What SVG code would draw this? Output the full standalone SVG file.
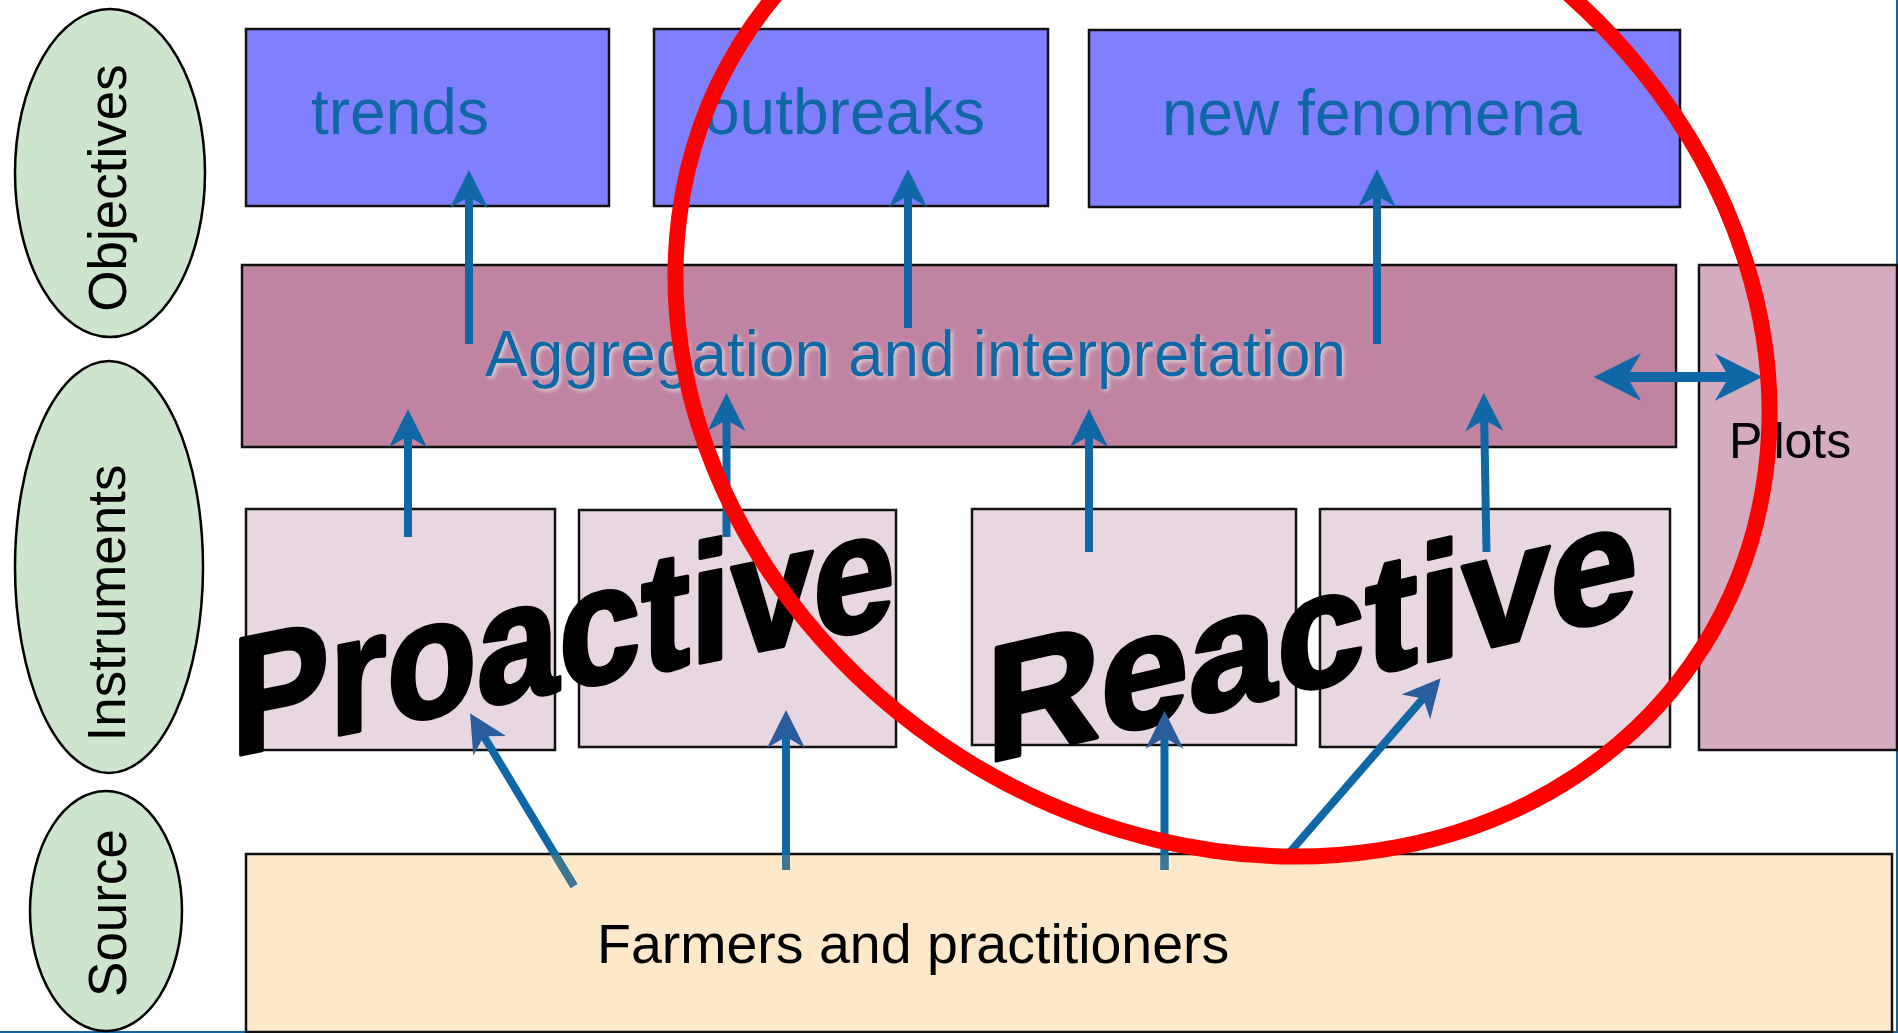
<svg xmlns="http://www.w3.org/2000/svg" width="1898" height="1033" viewBox="0 0 1898 1033">
  <style>
    .bx { stroke: #111; stroke-width: 2.5; }
    .oval { fill: #CDE4CD; stroke: #000; stroke-width: 2.5; }
    .lbl { font-family: "Liberation Sans", Arial, sans-serif; font-size: 53px; fill: #000; text-anchor: middle; }
    .blue { font-family: "Liberation Sans", Arial, sans-serif; font-size: 64px; fill: #0F67A6; }
    .blk { font-family: "Liberation Sans", Arial, sans-serif; fill: #000; }
    .big { font-family: "Liberation Sans", Arial, sans-serif; font-weight: bold; fill: #000; stroke: #000; stroke-width: 4; stroke-linejoin: round; }
    .arr { fill: none; stroke: #0F67A6; stroke-width: 8; marker-end: url(#ah); }
    .arrS { fill: none; stroke: #0F67A6; stroke-width: 8; marker-end: url(#ahP); }
    .tail { fill: none; stroke: #3E7590; stroke-width: 8; }
  </style>
  <defs>
    <marker id="ah" markerUnits="strokeWidth" orient="auto-start-reverse" viewBox="-2 -3 6 6" markerWidth="6" markerHeight="6" refX="0" refY="0">
      <path d="M3.34,0 L-1.41,-2.375 L0,0 L-1.41,2.375 Z" fill="#0F67A6"/>
    </marker>
    <marker id="ahP" markerUnits="strokeWidth" orient="auto-start-reverse" viewBox="-2 -3 6 6" markerWidth="6" markerHeight="6" refX="0" refY="0">
      <path d="M3.34,0 L-1.41,-2.375 L0,0 L-1.41,2.375 Z" fill="#2B5C9C"/>
    </marker>
    <filter id="glow" x="-5%" y="-30%" width="110%" height="160%">
      <feGaussianBlur in="SourceAlpha" stdDeviation="2"/>
      <feOffset dx="1.5" dy="1.5" result="b"/>
      <feFlood flood-color="#d9d2d6"/>
      <feComposite in2="b" operator="in"/>
      <feMerge><feMergeNode/><feMergeNode in="SourceGraphic"/></feMerge>
    </filter>
    <clipPath id="srcClip"><rect x="246" y="855" width="1646" height="176"/></clipPath>
  </defs>

  <rect x="0" y="0" width="1898" height="1033" fill="#fff"/>
  <g id="frame" stroke="#1565A0" stroke-width="2">
    <line x1="1897" y1="0" x2="1897" y2="1033"/>
    <line x1="0" y1="1032" x2="1898" y2="1032"/>
  </g>

  <g id="label-objectives">
    <ellipse class="oval" cx="110" cy="173" rx="95" ry="164"/>
    <text class="lbl" transform="translate(126,188) rotate(-90)">Objectives</text>
  </g>
  <g id="label-instruments">
    <ellipse class="oval" cx="109" cy="567" rx="94" ry="206"/>
    <text class="lbl" transform="translate(124.5,603) rotate(-90)">Instruments</text>
  </g>
  <g id="label-source">
    <ellipse class="oval" cx="106" cy="911" rx="76" ry="120"/>
    <text class="lbl" transform="translate(126,913) rotate(-90)">Source</text>
  </g>

  <g id="obj-trends">
    <rect class="bx" x="246" y="29" width="363" height="177" fill="#8080FF"/>
    <text class="blue" x="311" y="134">trends</text>
  </g>
  <g id="obj-outbreaks">
    <rect class="bx" x="654" y="29" width="394" height="177" fill="#8080FF"/>
    <text class="blue" x="704" y="134">outbreaks</text>
  </g>
  <g id="obj-new-fenomena">
    <rect class="bx" x="1089" y="30" width="591" height="177" fill="#8080FF"/>
    <text class="blue" x="1162" y="135">new fenomena</text>
  </g>

  <g id="aggregation">
    <rect class="bx" x="242" y="265" width="1434" height="182" fill="#C084A2"/>
    <text class="blue" x="485" y="376" filter="url(#glow)">Aggregation and interpretation</text>
  </g>

  <g id="pilots">
    <rect class="bx" x="1699" y="265" width="198" height="485" fill="#D5ABC0"/>
    <text class="blk" x="1729" y="458" font-size="50">Pilots</text>
  </g>

  <g id="instr-1"><rect class="bx" x="246" y="509" width="309" height="241" fill="#E8D6E1"/></g>
  <g id="instr-2"><rect class="bx" x="579" y="510" width="317" height="237" fill="#E8D6E1"/></g>
  <g id="instr-3"><rect class="bx" x="972" y="509" width="324" height="236" fill="#E8D6E1"/></g>
  <g id="instr-4"><rect class="bx" x="1320" y="509" width="350" height="238" fill="#E8D6E1"/></g>

  <g id="source-box">
    <rect class="bx" x="246" y="854" width="1646" height="178" fill="#FDE8CA"/>
    <text class="blk" x="597" y="963" font-size="55.5">Farmers and practitioners</text>
  </g>

  <g id="wordart-proactive">
    <text class="big" transform="translate(243,754) skewY(-11.3)" x="-12" y="0" font-size="168" textLength="664" lengthAdjust="spacingAndGlyphs">Proactive</text>
  </g>
  <g id="wordart-reactive">
    <text class="big" transform="translate(999,760) skewY(-12.95)" x="-13" y="0" font-size="164" textLength="652" lengthAdjust="spacingAndGlyphs">Reactive</text>
  </g>

  <g id="connectors">
    <line class="arr" x1="469" y1="344" x2="469" y2="196.7"/>
    <line class="arr" x1="908" y1="328" x2="908" y2="195.7"/>
    <line class="arr" x1="1377" y1="344" x2="1377" y2="195.7"/>
    <line class="arr" x1="408" y1="537" x2="408" y2="436"/>
    <line class="arr" x1="726.5" y1="537" x2="726.5" y2="419.7"/>
    <line class="arr" x1="1089" y1="552" x2="1089" y2="435.7"/>
    <line class="arr" x1="1486.5" y1="552" x2="1484.2" y2="419.7"/>
    <line class="arr" style="stroke-width:10; marker-start:url(#ah)" x1="1627" y1="377" x2="1729" y2="377"/>
    <line class="arrS" x1="574" y1="886" x2="483.8" y2="736.2"/>
    <line class="arrS" x1="786" y1="870" x2="786" y2="736.7"/>
    <line class="arrS" x1="1164.5" y1="870" x2="1164.5" y2="737.4"/>
    <line class="arrS" x1="1290" y1="852" x2="1423.2" y2="698.4"/>
    <g clip-path="url(#srcClip)">
      <line class="tail" x1="574" y1="886" x2="483.8" y2="736.2"/>
      <line class="tail" x1="786" y1="870" x2="786" y2="736.7"/>
      <line class="tail" x1="1164.5" y1="870" x2="1164.5" y2="737.4"/>
      <line class="tail" x1="1290" y1="852" x2="1423.2" y2="698.4"/>
    </g>
  </g>

  <g id="highlight-ellipse">
    <ellipse cx="0" cy="0" rx="568" ry="489" transform="translate(1222.5,344) rotate(32)" fill="none" stroke="#FF0000" stroke-width="16"/>
  </g>
</svg>
